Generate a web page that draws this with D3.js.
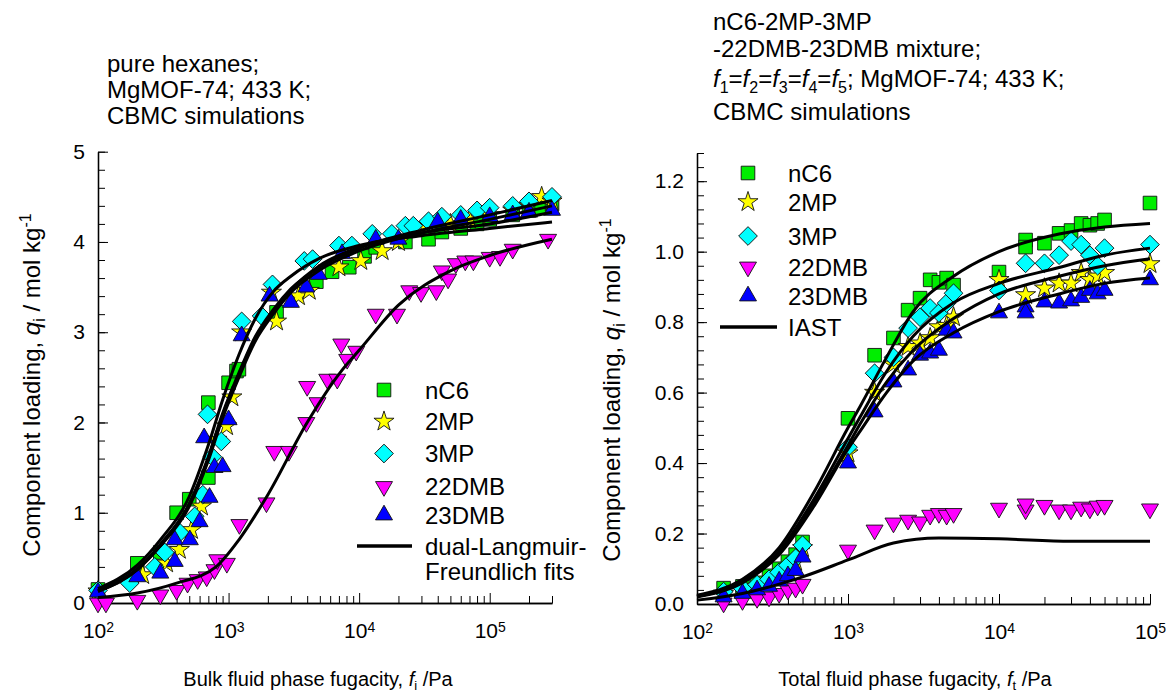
<!DOCTYPE html>
<html>
<head>
<meta charset="utf-8">
<script src="https://cdn.jsdelivr.net/npm/d3@7"></script>
<style>
body { margin: 0; background: #fff; }
svg text { font-family: "Liberation Sans", Arial, sans-serif; fill: #000; }
.axis path, .axis line { stroke: #000; }
.axis path { stroke-width: 1.3px; }
</style>
</head>
<body>
<div id="chart-area"></div>
<script>

/*****************************************/
/*   DATA       */
/*****************************************/

var seriesNames = ["nC6", "2MP", "3MP", "22DMB", "23DMB"];

// pure components, [fugacity /Pa, loading /mol kg-1]
var pureNC6 = [[100,0.15],[200,0.44],[300,0.56],[400,1.0],[500,1.15],[700,1.39],[700,2.22],[1000,2.44],[1150,2.57],
    [1200,2.59],[2330,3.22],[4700,3.56],[6200,3.67],[8400,3.72],[11000,3.84],[13400,3.94],[22600,4.0],[34000,4.03],
    [43000,4.11],[60000,4.15],[80000,4.2],[100000,4.25],[150000,4.3],[200000,4.35],[250000,4.38],[300000,4.42]];
var pure2MP = [[100,0.13],[220,0.31],[335,0.44],[420,0.59],[520,0.81],[620,1.07],[810,1.81],[965,1.96],[1060,2.28],
    [1260,3.0],[2130,3.44],[2330,3.12],[3430,3.4],[4150,3.46],[7000,3.72],[10300,3.79],[15000,3.9],[20000,4.0],
    [32000,4.17],[50000,4.2],[70000,4.25],[100000,4.3],[150000,4.35],[200000,4.4],[250000,4.5],[300000,4.45]];
var pure3MP = [[100,0.14],[175,0.22],[272,0.40],[325,0.56],[423,0.78],[550,0.96],[635,1.2],[690,2.09],[750,1.62],
    [880,1.79],[1260,3.12],[1790,3.18],[2170,3.53],[3800,3.79],[4400,3.81],[7000,3.96],[8800,3.96],[12600,4.09],
    [17800,4.09],[22600,4.18],[26000,4.18],[34000,4.23],[43000,4.28],[60000,4.3],[80000,4.35],[100000,4.38],
    [150000,4.4],[200000,4.45],[300000,4.5]];
var pure22DMB = [[100,0.0],[115,0.0],[200,0.03],[300,0.09],[400,0.14],[485,0.22],[580,0.26],[680,0.29],[780,0.37],
    [820,0.48],[970,0.44],[1210,0.87],[1950,1.11],[2240,1.68],[2900,1.68],[3940,2.0],[4000,2.4],[4800,2.22],
    [5700,2.48],[6800,2.48],[7300,2.87],[8100,2.7],[9500,2.79],[13400,3.2],[19500,3.2],[24200,3.46],[29800,3.44],
    [39000,3.46],[43000,3.68],[48000,3.59],[55000,3.76],[65000,3.79],[75000,3.79],[100000,3.83],[120000,3.84],
    [150000,3.92],[280000,4.03]];
var pure23DMB = [[100,0.12],[200,0.29],[300,0.33],[387,0.46],[387,0.70],[505,0.7],[600,0.9],[650,1.83],[715,1.17],
    [780,1.5],[900,1.51],[1000,2.03],[1260,2.96],[2060,3.4],[3000,3.33],[3940,3.5],[4900,3.64],[7400,3.87],
    [13400,4.03],[20000,4.03],[40000,4.22],[60000,4.25],[100000,4.28],[150000,4.3],[200000,4.33],[300000,4.35]];

// dual-Langmuir-Freundlich fit curves
var fitNC6 = [[100,0.16],[200,0.42],[300,0.70],[500,1.18],[700,1.75],[900,2.25],[1200,2.75],[1600,3.15],[2200,3.45],
    [3000,3.62],[5000,3.82],[10000,3.96],[30000,4.07],[100000,4.15],[300000,4.22]];
var fit2MP = [[100,0.13],[200,0.37],[300,0.63],[500,1.07],[700,1.58],[900,2.05],[1200,2.5],[1600,2.9],[2200,3.2],
    [3000,3.44],[5000,3.69],[10000,3.9],[30000,4.1],[100000,4.25],[300000,4.4]];
var fit3MP = [[100,0.14],[200,0.38],[300,0.65],[500,1.1],[700,1.62],[900,2.1],[1200,2.55],[1600,2.95],[2200,3.25],
    [3000,3.48],[5000,3.72],[10000,3.93],[30000,4.13],[100000,4.3],[300000,4.46]];
var fit22DMB = [[100,0.06],[200,0.11],[400,0.22],[800,0.40],[1200,0.7],[2000,1.2],[4000,2.0],[7400,2.58],
    [10000,2.8],[20000,3.3],[50000,3.68],[100000,3.85],[300000,4.03]];
var fit23DMB = [[100,0.13],[200,0.37],[300,0.64],[500,1.09],[700,1.6],[900,2.08],[1200,2.53],[1600,2.93],[2200,3.23],
    [3000,3.47],[5000,3.74],[10000,3.94],[30000,4.1],[100000,4.2],[300000,4.33]];

// 5-component mixture, [total fugacity /Pa, loading /mol kg-1]
var mixNC6 = [[150,0.045],[200,0.05],[250,0.06],[300,0.08],[350,0.10],[400,0.12],[450,0.14],[500,0.176],[1000,0.527],
    [1500,0.706],[2000,0.755],[2500,0.834],[3000,0.868],[3500,0.92],[4000,0.913],[4500,0.925],[5000,0.905],
    [10000,0.942],[15000,1.033],[15000,1.013],[20000,1.024],[25000,1.052],[30000,1.06],[35000,1.08],[40000,1.075],
    [45000,1.08],[50000,1.09],[100000,1.138]];
var mix2MP = [[150,0.03],[200,0.04],[250,0.05],[300,0.06],[350,0.08],[400,0.10],[450,0.12],[500,0.159],[1000,0.428],
    [1500,0.60],[2000,0.68],[2500,0.73],[3000,0.74],[3500,0.755],[4000,0.786],[4500,0.79],[5000,0.814],
    [10000,0.92],[15000,0.877],[20000,0.896],[25000,0.91],[30000,0.91],[35000,0.94],[40000,0.92],[45000,0.93],
    [50000,0.94],[100000,0.965]];
var mix3MP = [[150,0.035],[200,0.045],[250,0.055],[300,0.07],[350,0.09],[400,0.11],[450,0.13],[500,0.167],[1000,0.445],
    [1500,0.655],[2000,0.70],[2500,0.783],[3000,0.814],[3500,0.84],[4000,0.826],[4500,0.854],[5000,0.882],
    [10000,0.89],[15000,0.967],[20000,0.967],[25000,0.99],[30000,1.03],[35000,1.02],[40000,0.99],[45000,0.96],
    [50000,1.01],[100000,1.02]];
var mix22DMB = [[150,0.003],[200,0.01],[250,0.016],[300,0.02],[350,0.03],[400,0.04],[450,0.045],[500,0.056],
    [1000,0.153],[1500,0.21],[2000,0.23],[2500,0.238],[3000,0.233],[3500,0.252],[4000,0.257],[4500,0.252],
    [5000,0.257],[10000,0.272],[15000,0.267],[15000,0.284],[20000,0.28],[25000,0.267],[30000,0.267],
    [35000,0.275],[40000,0.27],[45000,0.278],[50000,0.28],[100000,0.27]];
var mix23DMB = [[150,0.02],[200,0.03],[250,0.04],[300,0.05],[350,0.065],[400,0.08],[450,0.095],[500,0.133],
    [1000,0.40],[1500,0.545],[2000,0.63],[2500,0.664],[3000,0.706],[3500,0.712],[4000,0.72],[4500,0.777],
    [5000,0.769],[10000,0.826],[15000,0.843],[15000,0.826],[20000,0.857],[25000,0.854],[30000,0.86],
    [35000,0.87],[40000,0.89],[45000,0.88],[50000,0.89],[100000,0.92]];

// IAST curves
var iastNC6 = [[100,0.025],[200,0.07],[350,0.16],[600,0.32],[1000,0.5],[1200,0.56],[1800,0.70],[2700,0.83],
    [5000,0.93],[10000,1.0],[25000,1.05],[50000,1.07],[100000,1.08]];
var iast2MP = [[100,0.022],[200,0.063],[350,0.145],[600,0.29],[1000,0.45],[1200,0.51],[1800,0.63],[2700,0.72],
    [5000,0.81],[10000,0.88],[25000,0.93],[50000,0.96],[100000,0.98]];
var iast3MP = [[100,0.022],[200,0.065],[350,0.15],[600,0.3],[1000,0.47],[1200,0.53],[1800,0.66],[2700,0.76],
    [5000,0.855],[10000,0.91],[25000,0.955],[50000,0.99],[100000,1.01]];
var iast22DMB = [[100,0.011],[200,0.03],[500,0.077],[1000,0.125],[2000,0.173],[4000,0.187],[10000,0.185],
    [30000,0.178],[100000,0.178]];
var iast23DMB = [[100,0.02],[200,0.06],[350,0.14],[600,0.28],[1000,0.44],[1200,0.49],[1800,0.6],[2700,0.69],
    [5000,0.77],[10000,0.83],[25000,0.88],[50000,0.91],[100000,0.925]];

// tick labels
var yTicksLeft = [0, 1, 2, 3, 4, 5];
var yTicksRight = [0.0, 0.2, 0.4, 0.6, 0.8, 1.0, 1.2];
var xDecades = [100, 1000, 10000, 100000];


/*****************************************/
/*   STYLES                              */
/*****************************************/

var markerStyle = [
    {fill: "#00ee00", type: d3.symbolSquare,   size: 185, rotate: 0},
    {fill: "#ffff00", type: d3.symbolStar,     size: 125, rotate: 0},
    {fill: "#00ffff", type: d3.symbolSquare,   size: 175, rotate: 45},
    {fill: "#ff00ff", type: d3.symbolTriangle, size: 125, rotate: 180},
    {fill: "#0000ff", type: d3.symbolTriangle, size: 125, rotate: 0}
];

var svg = d3.select("#chart-area").append("svg")
    .attr("width", 1170)
    .attr("height", 696);


function marker(sel, i) {
    var st = markerStyle[i];
    sel.attr("d", d3.symbol().type(st.type).size(st.size)())
        .attr("fill", st.fill)
        .attr("stroke", "#111")
        .attr("stroke-width", 0.9);
}


/*****************************************/
/*   PANEL                               */
/*****************************************/

function drawPanel(cfg) {

    var x = d3.scaleLog().domain(cfg.xDomain).range([cfg.left, cfg.right]);
    var y = d3.scaleLinear().domain(cfg.yDomain).range([cfg.bottom, cfg.top]);

    var g = svg.append("g");

    // ---- AXES ----
    var yMinor = d3.range(0, cfg.yDomain[1] + 1e-9, cfg.yMinorStep);
    g.append("g")
        .attr("class", "axis")
        .attr("transform", "translate(" + cfg.left + ",0)")
        .call(d3.axisLeft(y).tickValues(yMinor).tickSize(-7).tickSizeOuter(0).tickFormat(""));

    g.append("g")
        .attr("class", "axis")
        .attr("transform", "translate(" + cfg.left + ",0)")
        .call(d3.axisLeft(y).tickValues(cfg.yTicks).tickSize(-10).tickSizeOuter(0)
            .tickPadding(13).tickFormat(cfg.yFormat))
        .selectAll("text").style("font-size", "21px");

    var xMinor = x.ticks().filter(function(d) { return xDecades.indexOf(d) < 0; });
    g.append("g")
        .attr("class", "axis")
        .attr("transform", "translate(0," + cfg.bottom + ")")
        .call(d3.axisBottom(x).tickValues(xMinor).tickSize(-7).tickSizeOuter(0).tickFormat(""));

    var xAxisGroup = g.append("g")
        .attr("class", "axis")
        .attr("transform", "translate(0," + cfg.bottom + ")")
        .call(d3.axisBottom(x).tickValues(xDecades).tickSize(-10).tickSizeOuter(0)
            .tickPadding(20).tickFormat(""));

    xAxisGroup.selectAll(".tick text")
        .style("font-size", "21px")
        .each(function(d) {
            var t = d3.select(this);
            t.append("tspan").text("10");
            t.append("tspan").attr("dy", "-0.45em").style("font-size", "14px")
                .text(Math.round(Math.log10(d)));
        });

    // ---- MARKERS ----
    cfg.points.forEach(function(pts, i) {
        g.append("g").selectAll("path")
            .data(pts)
            .enter()
            .append("path")
            .call(marker, i)
            .attr("transform", function(d) {
                return "translate(" + x(d[0]) + "," + y(d[1]) + ") rotate(" + markerStyle[i].rotate + ")";
            });
    });

    // ---- CURVES ----
    var line = d3.line()
        .x(function(d) { return x(d[0]); })
        .y(function(d) { return y(d[1]); })
        .curve(d3.curveMonotoneX);

    cfg.curves.forEach(function(c) {
        g.append("path")
            .datum(c)
            .attr("fill", "none")
            .attr("stroke", "#000")
            .attr("stroke-width", 3)
            .attr("d", line);
    });

    // ---- LEGEND ----
    var lg = g.append("g");
    seriesNames.forEach(function(name, i) {
        lg.append("path")
            .call(marker, i)
            .attr("transform", "translate(" + cfg.legend.mx + "," + cfg.legend.rows[i] + ") rotate(" + markerStyle[i].rotate + ")");
        lg.append("text")
            .attr("x", cfg.legend.tx)
            .attr("y", cfg.legend.rows[i])
            .attr("dy", "0.36em")
            .style("font-size", "24px")
            .text(name);
    });
    lg.append("line")
        .attr("x1", cfg.legend.lx[0]).attr("x2", cfg.legend.lx[1])
        .attr("y1", cfg.legend.rows[5]).attr("y2", cfg.legend.rows[5])
        .attr("stroke", "#000").attr("stroke-width", 3.5);
    cfg.legend.lineLabel.forEach(function(s, k) {
        lg.append("text")
            .attr("x", cfg.legend.tx)
            .attr("y", cfg.legend.rows[5] + k * 25)
            .attr("dy", "0.36em")
            .style("font-size", "24px")
            .text(s);
    });

    // ---- AXIS TITLES ----
    var yt = g.append("text")
        .attr("transform", "translate(" + cfg.yTitleX + "," + cfg.yTitleY + ") rotate(-90)")
        .style("text-anchor", "middle")
        .style("font-size", "24px");
    yt.append("tspan").text("Component loading, ");
    yt.append("tspan").style("font-style", "italic").text("q");
    yt.append("tspan").attr("dy", 5).style("font-size", "16px").text("i");
    yt.append("tspan").attr("dy", -5).text(" / mol kg");
    yt.append("tspan").attr("dy", -9).style("font-size", "16px").text("-1");

    var xt = g.append("text")
        .attr("x", cfg.xTitleX)
        .attr("y", 686)
        .style("text-anchor", "middle")
        .style("font-size", "20px");
    xt.append("tspan").text(cfg.xTitle);
    xt.append("tspan").style("font-style", "italic").text("f");
    xt.append("tspan").attr("dy", 4).style("font-size", "13px").text(cfg.xSub);
    xt.append("tspan").attr("dy", -4).text(" /Pa");
}


drawPanel({
    left: 98, right: 552, top: 151.7, bottom: 603,
    xDomain: [100, 300000], yDomain: [0, 5],
    yTicks: yTicksLeft, yMinorStep: 0.2, yFormat: d3.format("d"),
    points: [pureNC6, pure2MP, pure3MP, pure22DMB, pure23DMB],
    curves: [fitNC6, fit2MP, fit3MP, fit22DMB, fit23DMB],
    legend: {mx: 384, tx: 425, lx: [357, 412], rows: [390, 421.5, 453.5, 486.5, 515, 546],
             lineLabel: ["dual-Langmuir-", "Freundlich fits"]},
    yTitleX: 40, yTitleY: 385, xTitleX: 318,
    xTitle: "Bulk fluid phase fugacity, ", xSub: "i"
});

drawPanel({
    left: 697, right: 1150, top: 153, bottom: 604,
    xDomain: [100, 100000], yDomain: [0, 1.28],
    yTicks: yTicksRight, yMinorStep: 0.04, yFormat: d3.format(".1f"),
    points: [mixNC6, mix2MP, mix3MP, mix22DMB, mix23DMB],
    curves: [iastNC6, iast2MP, iast3MP, iast22DMB, iast23DMB],
    legend: {mx: 748, tx: 788, lx: [720, 777], rows: [173, 202, 236, 267, 296, 327],
             lineLabel: ["IAST"]},
    yTitleX: 620, yTitleY: 390, xTitleX: 915,
    xTitle: "Total fluid phase fugacity, ", xSub: "t"
});


// ---- ANNOTATIONS ----

function note(x, y, lines, dyList) {
    lines.forEach(function(s, k) {
        svg.append("text")
            .attr("x", x).attr("y", y + dyList[k])
            .style("font-size", "24px")
            .text(s);
    });
}

note(107, 72, ["pure hexanes;", "MgMOF-74; 433 K;", "CBMC simulations"], [0, 26, 52]);
note(713, 30, ["nC6-2MP-3MP", "-22DMB-23DMB mixture;"], [0, 27]);
note(713, 30, ["CBMC simulations"], [90]);

var fl = svg.append("text").attr("x", 713).attr("y", 87).style("font-size", "24px");
[1, 2, 3, 4, 5].forEach(function(n, k) {
    if (k > 0) fl.append("tspan").attr("dy", -6).text("=");
    fl.append("tspan").style("font-style", "italic").text("f");
    fl.append("tspan").attr("dy", 6).style("font-size", "16px").text(n);
});
fl.append("tspan").attr("dy", -6).text("; MgMOF-74; 433 K;");

</script>
</body>
</html>
